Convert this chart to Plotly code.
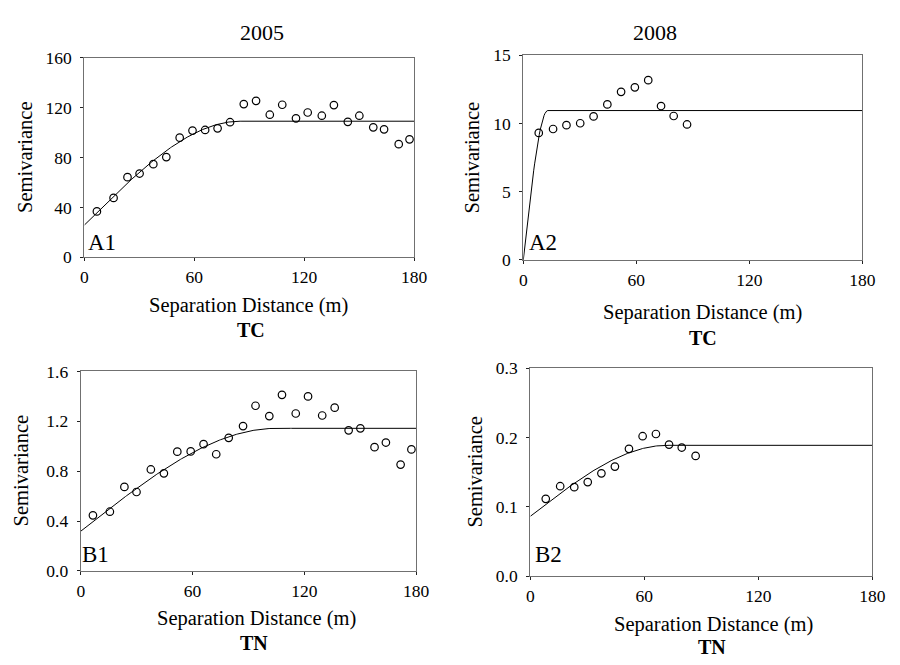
import numpy as np
import plotly.graph_objects as go

# ---------------- data ----------------
# A1: TC 2005
a1_lag = [6.8, 15.9, 23.5, 30.1, 37.6, 44.7, 52.0, 59.0, 65.9, 72.7, 79.5, 87.0, 93.7,
          101.2, 108.0, 115.5, 121.9, 129.6, 136.2, 143.8, 150.1, 157.7, 163.6, 171.6, 177.5]
a1_gamma = [36.8, 47.6, 64.2, 67.1, 74.6, 80.3, 95.8, 101.5, 102.0, 103.3, 108.2, 122.7, 125.3,
            114.2, 122.2, 111.3, 116.0, 113.4, 121.9, 108.5, 113.4, 104.1, 102.5, 90.6, 94.5]
a1_model = dict(nugget=25.9, sill=109.0, rng=85.0)

# A2: TC 2008
a2_lag = [8.2, 15.8, 22.9, 30.2, 37.3, 44.6, 51.9, 59.2, 66.3, 73.1, 79.8, 86.9]
a2_gamma = [9.31, 9.60, 9.88, 10.02, 10.52, 11.40, 12.32, 12.65, 13.18, 11.28, 10.55, 9.93]
a2_model = dict(nugget=0.0, sill=10.95, rng=13.0)

# B1: TN 2005
b1_lag = [6.5, 15.6, 23.4, 29.9, 37.6, 44.6, 51.8, 59.0, 65.9, 72.7, 79.4, 87.1, 93.8,
          101.2, 108.0, 115.4, 122.0, 129.6, 136.3, 143.8, 150.1, 157.7, 163.8, 171.7, 177.5]
b1_gamma = [0.446, 0.475, 0.674, 0.633, 0.814, 0.783, 0.957, 0.959, 1.017, 0.936, 1.068, 1.162, 1.325,
            1.242, 1.413, 1.263, 1.400, 1.247, 1.310, 1.128, 1.144, 0.993, 1.030, 0.853, 0.975]
b1_model = dict(nugget=0.319, sill=1.144, rng=105.0)

# B2: TN 2008
b2_lag = [8.1, 15.7, 23.1, 30.2, 37.4, 44.5, 51.9, 59.1, 66.1, 73.0, 79.7, 87.0]
b2_gamma = [0.1116, 0.1298, 0.1284, 0.1358, 0.1484, 0.1581, 0.1837, 0.2019, 0.2051, 0.1898, 0.1856, 0.1735]
b2_model = dict(nugget=0.0865, sill=0.1888, rng=72.0)

x_ticks = [0, 60, 120, 180]
a1_yticks = [0, 40, 80, 120, 160]
a2_yticks = [0, 5, 10, 15]
b1_yticks = [0.0, 0.4, 0.8, 1.2, 1.6]
b2_yticks = [0.0, 0.1, 0.2, 0.3]

col_titles = ["2005", "2008"]
var_labels = ["TC", "TN"]
panel_labels = ["A1", "A2", "B1", "B2"]


def spherical(h, nugget, sill, rng):
    h = np.asarray(h, dtype=float)
    r = np.clip(h / rng, 0, 1)
    return nugget + (sill - nugget) * (1.5 * r - 0.5 * r ** 3)


W, H = 900, 665
FONT = "Liberation Serif"

# plot boxes in pixels: (left, right, top, bottom)
boxes = {
    "A1": (82, 418, 49, 255),
    "A2": (529.3, 875, 46.7, 257.7),
    "B1": (78.3, 420, 372.7, 578.3),
    "B2": (536.5, 885, 369.3, 583.8),
}

panels = [
    ("A1", a1_lag, a1_gamma, a1_model, a1_yticks, [0, 160], None),
    ("A2", a2_lag, a2_gamma, a2_model, a2_yticks, [0, 15], None),
    ("B1", b1_lag, b1_gamma, b1_model, b1_yticks, [0, 1.6], ".1f"),
    ("B2", b2_lag, b2_gamma, b2_model, b2_yticks, [0, 0.3], ".1f"),
]

fig = go.Figure()
h_grid = np.linspace(0, 180, 361)

for i, (name, lag, gam, mdl, yt, yr, fmt) in enumerate(panels):
    n = i + 1
    xa = "x" if n == 1 else f"x{n}"
    ya = "y" if n == 1 else f"y{n}"
    fig.add_trace(go.Scatter(x=h_grid, y=spherical(h_grid, **mdl), mode="lines",
                             line=dict(color="black", width=1), xaxis=xa, yaxis=ya,
                             showlegend=False, hoverinfo="skip"))
    fig.add_trace(go.Scatter(x=lag, y=gam, mode="markers",
                             marker=dict(symbol="circle-open", size=7.5, color="black",
                                         line=dict(width=1.2, color="black")),
                             xaxis=xa, yaxis=ya, showlegend=False, cliponaxis=False))
    l, r, t, b = boxes[name]
    common = dict(showline=True, mirror=True, linecolor="#707070", linewidth=1.3,
                  ticks="outside", ticklen=3, tickwidth=1, tickcolor="#222",
                  showgrid=False, zeroline=False,
                  tickfont=dict(family=FONT, size=17.5, color="black"))
    xkey = "xaxis" if n == 1 else f"xaxis{n}"
    ykey = "yaxis" if n == 1 else f"yaxis{n}"
    fig.update_layout({
        xkey: dict(domain=[l / W, r / W], range=[0, 180], tickvals=x_ticks,
                   anchor=ya, ticklabelstandoff=1, **common),
        ykey: dict(domain=[1 - b / H, 1 - t / H], range=yr, tickvals=yt,
                   tickformat=fmt, anchor=xa, ticklabelstandoff=5, **common),
    })

annotations = []


def txt(x, y, s, size, bold=False, angle=0, xanchor="center", yanchor="middle"):
    annotations.append(dict(x=x / W, y=1 - y / H, xref="paper", yref="paper",
                            text=f"<b>{s}</b>" if bold else s, showarrow=False,
                            font=dict(family=FONT, size=size, color="black"),
                            textangle=angle, xanchor=xanchor, yanchor=yanchor))


# column titles
txt(263, 23.5, col_titles[0], 22)
txt(663.5, 23.5, col_titles[1], 22)

# x-axis titles and variable labels
txt(249, 305, "Separation Distance (m)", 20.5)
txt(252, 330, var_labels[0], 20, bold=True)
txt(712, 312, "Separation Distance (m)", 20.5)
txt(712, 338, var_labels[0], 20, bold=True)
txt(257, 627, "Separation Distance (m)", 20.5)
txt(255, 653, var_labels[1], 20, bold=True)
txt(723, 634, "Separation Distance (m)", 20.5)
txt(722, 657, var_labels[1], 20, bold=True)

# y-axis titles
txt(22, 152, "Semivariance", 20.5, angle=-90)
txt(477, 152, "Semivariance", 20.5, angle=-90)
txt(17, 475, "Semivariance", 20.5, angle=-90)
txt(480, 476, "Semivariance", 20.5, angle=-90)

# panel labels
txt(84, 240, panel_labels[0], 23, xanchor="left")
txt(533, 240, panel_labels[1], 23, xanchor="left")
txt(77, 561, panel_labels[2], 23, xanchor="left")
txt(539, 561, panel_labels[3], 23, xanchor="left")

fig.update_layout(width=W, height=H, margin=dict(l=0, r=0, t=0, b=0),
                  paper_bgcolor="white", plot_bgcolor="white",
                  annotations=annotations)

fig.write_html("out.html")
